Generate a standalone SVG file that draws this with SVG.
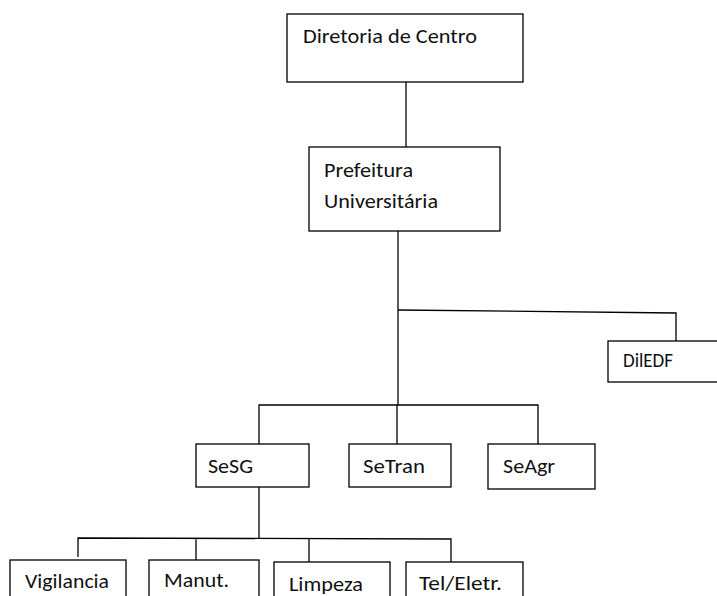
<svg xmlns="http://www.w3.org/2000/svg" width="717" height="596" viewBox="0 0 717 596">
<style>
.box{fill:#fff;stroke:#000;stroke-width:1.3}
.ln{fill:none;stroke:#000;stroke-width:1.3}
text{font-family:Carlito,Lato,"Open Sans",sans-serif;font-size:20px;fill:#111}
</style>
<rect width="717" height="596" fill="#fff"/>
<g id="connectors">
<path class="ln" d="M406 82V147"/>
<path class="ln" d="M398 231V405"/>
<path class="ln" d="M398 310L676 313V341"/>
<path class="ln" d="M259 444V405H538V444M397 405V444"/>
<path class="ln" d="M259 487V538"/>
<path class="ln" d="M78 557V538L451 539V562M196 538V560M309 539V562"/>
</g>
<g id="diretoria">
<rect class="box" x="287" y="14" width="236" height="68"/>
<text x="303" y="43" textLength="174" lengthAdjust="spacingAndGlyphs">Diretoria de Centro</text>
</g>
<g id="prefeitura">
<rect class="box" x="309" y="147" width="191" height="84"/>
<text x="324" y="177" textLength="89" lengthAdjust="spacingAndGlyphs">Prefeitura</text>
<text x="324" y="208" textLength="114" lengthAdjust="spacingAndGlyphs">Universitária</text>
</g>
<g id="diledf">
<rect class="box" x="608" y="341" width="120" height="41"/>
<text x="623" y="367" textLength="50" lengthAdjust="spacingAndGlyphs">DilEDF</text>
</g>
<g id="sesg">
<rect class="box" x="196" y="444" width="113" height="43"/>
<text x="208" y="473" textLength="45" lengthAdjust="spacingAndGlyphs">SeSG</text>
</g>
<g id="setran">
<rect class="box" x="349" y="444" width="102" height="43"/>
<text x="363" y="473" textLength="62" lengthAdjust="spacingAndGlyphs">SeTran</text>
</g>
<g id="seagr">
<rect class="box" x="488" y="444" width="107" height="45"/>
<text x="503" y="473" textLength="52" lengthAdjust="spacingAndGlyphs">SeAgr</text>
</g>
<g id="vigilancia">
<rect class="box" x="10" y="560" width="116" height="50"/>
<text x="25" y="588" textLength="84" lengthAdjust="spacingAndGlyphs">Vigilancia</text>
</g>
<g id="manut">
<rect class="box" x="149" y="560" width="110" height="50"/>
<text x="164" y="587" textLength="65" lengthAdjust="spacingAndGlyphs">Manut.</text>
</g>
<g id="limpeza">
<rect class="box" x="274" y="562" width="116" height="50"/>
<text x="289" y="591" textLength="74" lengthAdjust="spacingAndGlyphs">Limpeza</text>
</g>
<g id="teleletr">
<rect class="box" x="406" y="562" width="117" height="50"/>
<text x="419" y="590" textLength="83" lengthAdjust="spacingAndGlyphs">Tel/Eletr.</text>
</g>
</svg>
